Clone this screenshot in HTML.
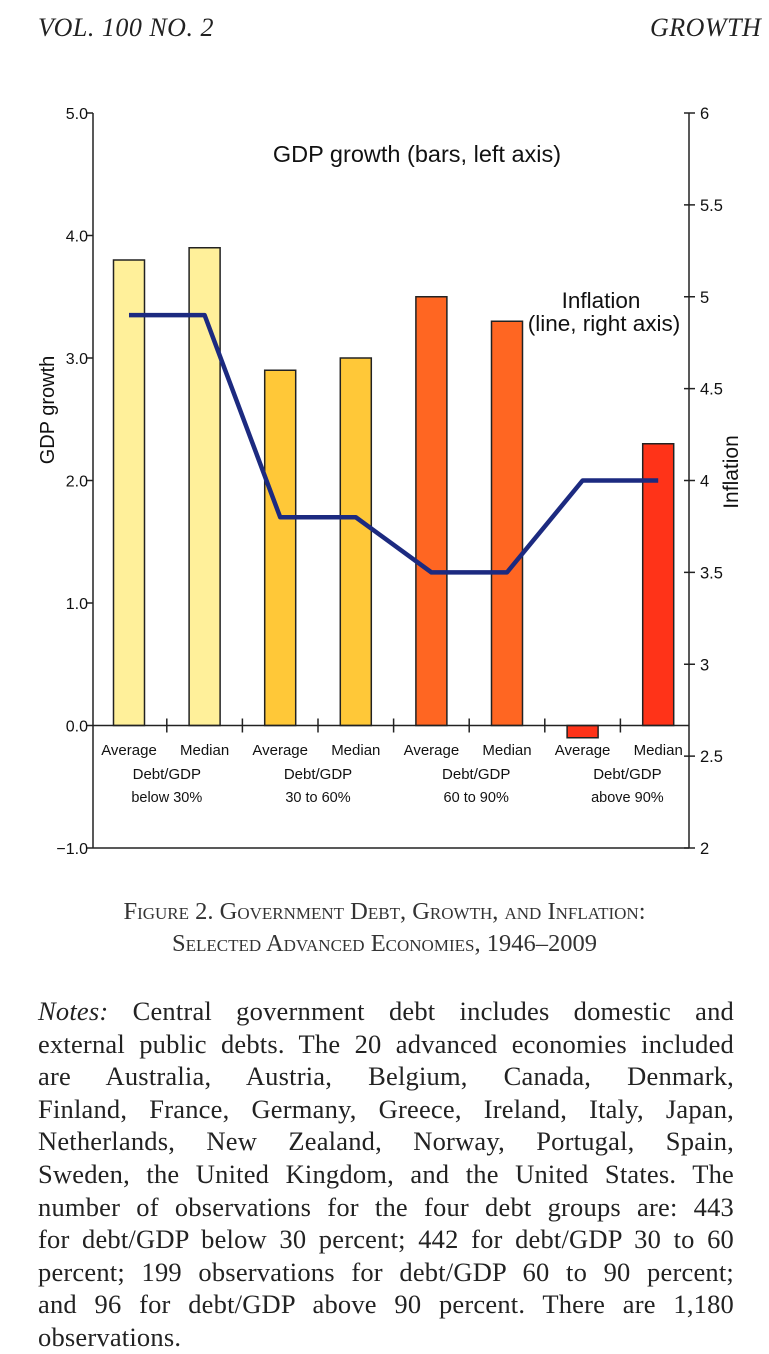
<!DOCTYPE html>
<html><head><meta charset="utf-8"><style>
body{margin:0;background:#fff;width:769px;height:1350px;overflow:hidden;position:relative;font-family:"Liberation Serif",serif;color:#222}
.hdr{position:absolute;top:13px;font-style:italic;font-size:26px;letter-spacing:0.5px;white-space:nowrap}
.cap{position:absolute;left:0;width:769px;text-align:center;font-size:24.5px;line-height:32px;font-variant:small-caps;color:#333}
.notes{position:absolute;left:38px;width:696px;top:995px;font-size:26.5px;line-height:32.6px;color:#222;letter-spacing:0.2px}
.notes div{text-align:justify;text-align-last:justify;white-space:nowrap;height:32.6px}
.notes div.last{text-align-last:left}
svg text{font-family:"Liberation Sans",sans-serif;fill:#111}
</style></head><body>
<div class="hdr" style="left:38px">VOL. 100 NO. 2</div>
<div class="hdr" style="left:650px">GROWTH</div>
<svg id="chart" width="769" height="880" style="position:absolute;left:0;top:0"></svg>
<div class="cap" style="top:896px">Figure 2. Government Debt, Growth, and Inflation:<br>Selected Advanced Economies, 1946–2009</div>
<div class="notes">
<div><i>Notes:</i> Central government debt includes domestic and</div>
<div>external public debts. The 20 advanced economies included</div>
<div>are Australia, Austria, Belgium, Canada, Denmark,</div>
<div>Finland, France, Germany, Greece, Ireland, Italy, Japan,</div>
<div>Netherlands, New Zealand, Norway, Portugal, Spain,</div>
<div>Sweden, the United Kingdom, and the United States. The</div>
<div>number of observations for the four debt groups are: 443</div>
<div>for debt/GDP below 30 percent; 442 for debt/GDP 30 to 60</div>
<div>percent; 199 observations for debt/GDP 60 to 90 percent;</div>
<div>and 96 for debt/GDP above 90 percent. There are 1,180</div>
<div class="last">observations.</div>
</div>
<script>
const categories=["Average","Median","Average","Median","Average","Median","Average","Median"];
const groups=["below 30%","30 to 60%","60 to 90%","above 90%"];
const growth=[3.8,3.9,2.9,3.0,3.5,3.3,-0.1,2.3];
const inflation=[4.9,4.9,3.8,3.8,3.5,3.5,4.0,4.0];
const leftTicks=[5.0,4.0,3.0,2.0,1.0,0.0,-1.0];
const rightTicks=[6,5.5,5,4.5,4,3.5,3,2.5,2];
const colors=["#FFF09A","#FFF09A","#FFC838","#FFC838","#FF6622","#FF6622","#FF3318","#FF3318"];
const NS="http://www.w3.org/2000/svg";
const svg=document.getElementById('chart');
const LX=93,RX=689,Y0=113,Y1=848;
const yL=v=>Y1-(v-(-1))/(6)*(Y1-Y0);
const yR=v=>Y1-(v-2)/4*(Y1-Y0);
const xC=i=>129+75.6*i;
function el(t,a,txt){const e=document.createElementNS(NS,t);for(const k in a)e.setAttribute(k,a[k]);if(txt!==undefined)e.textContent=txt;svg.appendChild(e);return e;}
let e;
e=el('line',{x1:LX,y1:Y0,x2:LX,y2:Y1,stroke:'#222','stroke-width':1.5});

e=el('line',{x1:RX,y1:Y0,x2:RX,y2:Y1,stroke:'#222','stroke-width':1.5});

e=el('line',{x1:LX,y1:Y1,x2:RX,y2:Y1,stroke:'#222','stroke-width':1.5});

leftTicks.forEach(v=>{const y=yL(v);
 e=el('line',{x1:LX-6,y1:y,x2:LX,y2:y,stroke:'#222','stroke-width':1.5});
 
 e=el('text',{x:LX-5,y:y+6,'text-anchor':'end','font-size':16},v<0?'\u22121.0':v.toFixed(1));
 });
rightTicks.forEach(v=>{const y=yR(v);
 e=el('line',{x1:RX-5,y1:y,x2:RX+6,y2:y,stroke:'#222','stroke-width':1.5});
 
 e=el('text',{x:RX+11,y:y+6,'font-size':16.5},String(v));
 });
growth.forEach((v,i)=>{const y0=yL(0),y=yL(v);
 e=el('rect',{x:xC(i)-15.5,y:Math.min(y,y0),width:31,height:Math.abs(y0-y),fill:colors[i],stroke:'#222','stroke-width':1.5});
 
 e=el('text',{x:xC(i),y:755,'text-anchor':'middle','font-size':15},categories[i]);
 });
e=el('line',{x1:LX,y1:yL(0),x2:RX,y2:yL(0),stroke:'#222','stroke-width':1.5});

for(let i=0;i<7;i++){const x=(xC(i)+xC(i+1))/2;
 e=el('line',{x1:x,y1:yL(0)-7,x2:x,y2:yL(0)+7,stroke:'#222','stroke-width':1.5});
 }
groups.forEach((g,k)=>{const x=(xC(2*k)+xC(2*k+1))/2+(k>=2?7:0);
 e=el('text',{x:x,y:779,'text-anchor':'middle','font-size':15},'Debt/GDP');
 
 e=el('text',{x:x,y:802,'text-anchor':'middle','font-size':14.5},g);
 });
e=el('polyline',{points:inflation.map((v,i)=>xC(i)+','+yR(v)).join(' '),fill:'none',stroke:'#1C2A80','stroke-width':4.5,'stroke-linejoin':'round'});

e=el('text',{x:417,y:162,'text-anchor':'middle','font-size':23.5},'GDP growth (bars, left axis)');

e=el('text',{x:601,y:308,'text-anchor':'middle','font-size':22.5},'Inflation');

e=el('text',{x:604,y:331,'text-anchor':'middle','font-size':22.5},'(line, right axis)');

e=el('text',{x:54,y:410,'text-anchor':'middle','font-size':20,transform:'rotate(-90 54 410)'},'GDP growth');

e=el('text',{x:738,y:472,'text-anchor':'middle','font-size':21,transform:'rotate(-90 738 472)'},'Inflation');

</script>
</body></html>
